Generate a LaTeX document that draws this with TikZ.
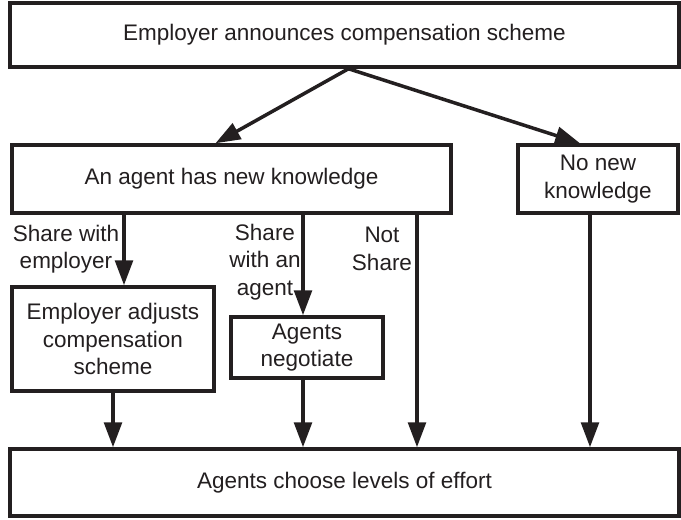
\documentclass[tikz,border=0pt]{standalone}
\usepackage{fontspec}
\setmainfont{Liberation Sans}
\usetikzlibrary{arrows.meta,positioning,calc}
\definecolor{inkdark}{RGB}{35,31,32}
\tikzset{
  stagebox/.style={draw=inkdark, line width=2.5pt, fill=white, align=center,
                   inner sep=0pt, text=inkdark, font=\fontsize{16}{19.4}\selectfont},
  flowarr/.style={-{Triangle[length=6.2mm,width=4.4mm]}, line width=2.5pt, inkdark},
  branchlbl/.style={align=center, inner sep=0pt, text=inkdark,
                    font=\fontsize{16}{19.4}\selectfont},
}

\begin{document}
\begin{tikzpicture}
    \useasboundingbox (0,0) rectangle (17.025,12.975);
    % stages
    \node[stagebox, minimum width=16.725cm, minimum height=1.6cm] (announce) at (8.6125,12.1) {Employer announces compensation scheme};
    \node[stagebox, minimum width=10.975cm, minimum height=1.7cm] (newknow) at (5.7875,8.5) {An agent has new knowledge};
    \node[stagebox, minimum width=4.0cm, minimum height=1.7cm] (nonew) at (14.95,8.5) {No new\\knowledge};
    \node[stagebox, minimum width=5.05cm, minimum height=2.6cm] (adjust) at (2.825,4.5) {Employer adjusts\\compensation\\scheme};
    \node[stagebox, minimum width=3.8cm, minimum height=1.525cm] (negot) at (7.675,4.2875) {Agents\\negotiate};
    \node[stagebox, minimum width=16.725cm, minimum height=1.675cm] (effort) at (8.6125,0.9125) {Agents choose levels of effort};
    % branch labels
    \node[branchlbl] (lblemp) at (1.65,6.75) {Share with\\employer};
    \node[branchlbl] (lblagent) at (6.625,6.425) {Share\\with an\\agent};
    \node[branchlbl] (lblnot) at (9.55,6.75) {Not\\Share};
    % arrows
    \coordinate (toadjust) at ([xshift=0.275cm]adjust.north);
    \coordinate (tonegot) at ([xshift=-0.1cm]negot.north);
    \coordinate (skip) at (10.425,0);
    \draw[flowarr] ([xshift=0.1cm]announce.south) -- ([xshift=-0.4cm]newknow.north);
    \draw[flowarr] ([xshift=0.1cm]announce.south) -- ([xshift=-0.45cm]nonew.north);
    \draw[flowarr] (newknow.south -| toadjust) -- (toadjust);
    \draw[flowarr] (newknow.south -| tonegot) -- (tonegot);
    \draw[flowarr] (newknow.south -| skip) -- (effort.north -| skip);
    \draw[flowarr] (adjust.south) -- (effort.north -| adjust.south);
    \draw[flowarr] ([xshift=-0.1cm]negot.south) -- (effort.north -| tonegot);
    \draw[flowarr] ([xshift=-0.2cm]nonew.south) -- ([xshift=-0.2cm]nonew.south |- effort.north);
\end{tikzpicture}
\end{document}
